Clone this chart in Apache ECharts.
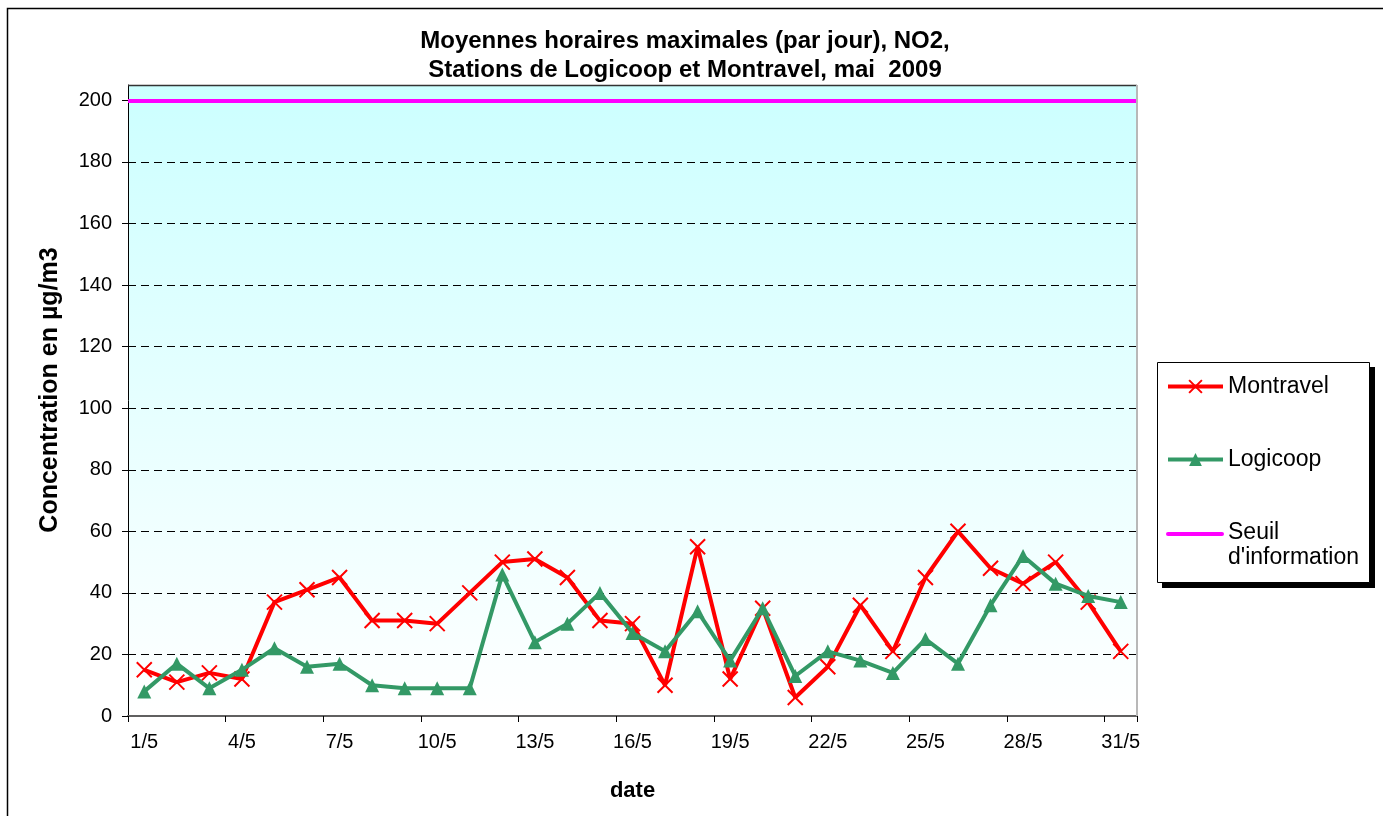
<!DOCTYPE html>
<html>
<head>
<meta charset="utf-8">
<script src="https://cdn.jsdelivr.net/npm/echarts@6/dist/echarts.min.js"></script>
<style>html,body{margin:0;padding:0;background:#fff;}#c{width:1383px;height:816px;}</style>
</head>
<body>
<div id="c"></div>
<script>
const categories = ['1/5','2/5','3/5','4/5','5/5','6/5','7/5','8/5','9/5','10/5','11/5','12/5','13/5','14/5','15/5','16/5','17/5','18/5','19/5','20/5','21/5','22/5','23/5','24/5','25/5','26/5','27/5','28/5','29/5','30/5','31/5'];
const montravel = [15,11,14,12,37,41,45,31,31,30,40,50,51,45,31,30,10,55,12,35,6,16,36,21,45,60,48,43,50,37,21];
const logicoop = [8,17,9,15,22,16,17,10,9,9,9,46,24,30,40,27,21,34,18,35,13,21,18,14,25,17,36,52,43,39,37];
const seuil = 200;
const yTicks = [0,20,40,60,80,100,120,140,160,180,200];
const seriesNames = ['Montravel','Logicoop',"Seuil d'information"];

const FONT = '"Liberation Sans", Arial, sans-serif';
const G = {left:128, top:85, right:1137, bottom:716};

const chart = echarts.init(document.getElementById('c'), null, {renderer:'canvas'});
chart.setOption({
  animation:false,
  backgroundColor:'#fff',
  textStyle:{fontFamily:FONT},
  title:{
    text:'Moyennes horaires maximales (par jour), NO2,\nStations de Logicoop et Montravel, mai  2009',
    left:680, top:22, textAlign:'center',
    textStyle:{fontFamily:FONT, fontSize:24, fontWeight:'bold', color:'#000', lineHeight:29}
  },
  grid:{left:G.left, top:G.top, width:G.right-G.left, height:G.bottom-G.top, show:true, borderWidth:0,
    backgroundColor:{type:'linear', x:0, y:0, x2:0, y2:1, colorStops:[{offset:0,color:'#CCFFFF'},{offset:1,color:'#FFFFFF'}]}},
  legend:{
    orient:'vertical', left:1166, top:374, padding:0, itemGap:48,
    itemWidth:55, itemHeight:16,
    data:[seriesNames[0], seriesNames[1],
      {name:seriesNames[2], icon:'path://M0,0L54,0L54,4L0,4Z', itemStyle:{opacity:0}}],
    lineStyle:{width:4},
    formatter:n => n === "Seuil d'information" ? "Seuil\nd'information" : n,
    textStyle:{fontFamily:FONT, fontSize:23, color:'#000', lineHeight:25}
  },
  xAxis:{
    type:'category', data:categories, boundaryGap:true,
    name:'date', nameLocation:'middle', nameGap:64,
    nameTextStyle:{fontFamily:FONT, fontSize:22, fontWeight:'bold', color:'#000'},
    axisLine:{lineStyle:{color:'#606060', width:2}},
    axisTick:{show:true, interval:2, length:6, alignWithLabel:false, lineStyle:{color:'#000', width:1}},
    axisLabel:{interval:2, margin:16, fontFamily:FONT, fontSize:20, color:'#000'},
    splitLine:{show:false}
  },
  yAxis:{
    type:'value', min:0, max:205, interval:20,
    axisLine:{show:true, lineStyle:{color:'#000', width:1}},
    axisTick:{show:true, length:6, customValues:yTicks, lineStyle:{color:'#000'}},
    axisLabel:{margin:16, fontFamily:FONT, fontSize:20, color:'#000', customValues:yTicks},
    splitLine:{show:true, showMaxLine:false, lineStyle:{color:'#000', type:[8,5], width:1}}
  },
  series:[
    {name:seriesNames[0], type:'line', data:montravel,
     symbol:'path://M0,0L10,10M10,0L0,10', symbolSize:15,
     lineStyle:{color:'#FF0000', width:4}, itemStyle:{color:'#FF0000', borderColor:'#FF0000', borderWidth:2}, z:3},
    {name:seriesNames[1], type:'line', data:logicoop,
     symbol:'triangle', symbolSize:14,
     lineStyle:{color:'#339966', width:4}, itemStyle:{color:'#339966'}, z:4},
    {name:seriesNames[2], type:'line', data:[],
     symbol:'none', lineStyle:{color:'#FF00FF', width:4}, itemStyle:{color:'#FF00FF'},
     markLine:{silent:true, symbol:['none','none'], label:{show:false},
       lineStyle:{color:'#FF00FF', width:4, type:'solid'}, data:[{yAxis:seuil}]}, z:2}
  ],
  graphic:[
    {type:'rect', shape:{x:7.5, y:8.5, width:1400, height:830}, style:{fill:'none', stroke:'#000', lineWidth:1.5}, z:-10, silent:true},
    {type:'line', shape:{x1:G.left, y1:G.top+0.5, x2:G.right, y2:G.top+0.5}, style:{stroke:'#333', lineWidth:1.5}, z:50, silent:true},
    {type:'line', shape:{x1:G.right, y1:G.top, x2:G.right, y2:G.bottom}, style:{stroke:'#b8b8b8', lineWidth:2}, z:50, silent:true},
    {type:'rect', shape:{x:1162, y:367, width:213, height:221}, style:{fill:'#000'}, z:-2, silent:true},
    {type:'rect', shape:{x:1157.5, y:362.5, width:212, height:220}, style:{fill:'#fff', stroke:'#000', lineWidth:1}, z:-1, silent:true},
    {type:'line', shape:{x1:1168, y1:534, x2:1222, y2:534}, style:{stroke:'#FF00FF', lineWidth:4, lineCap:'round'}, z:60, silent:true},
    {type:'text', x:50, y:390, rotation:Math.PI/2,
     style:{text:'Concentration en µg/m3', fontFamily:FONT, fontSize:25, fontWeight:'bold', fill:'#000', align:'center', verticalAlign:'middle'}, z:50}
  ]
});
</script>
</body>
</html>
